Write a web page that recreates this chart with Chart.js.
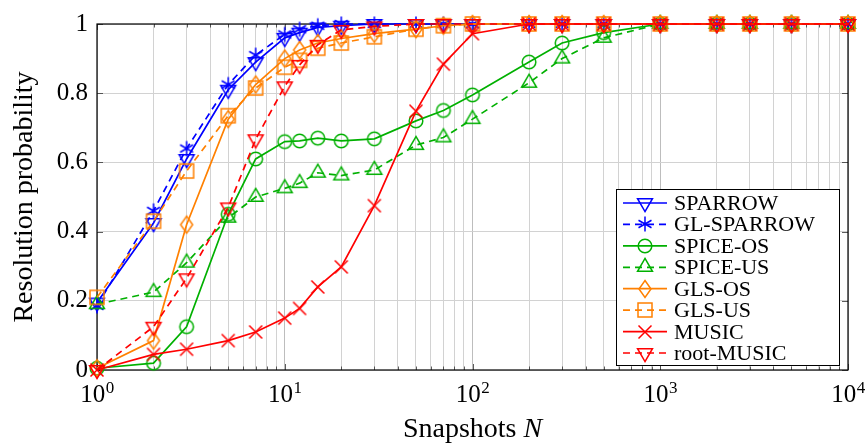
<!DOCTYPE html>
<html>
<head>
<meta charset="utf-8">
<script src="https://cdn.jsdelivr.net/npm/chart.js@4.4.0/dist/chart.umd.min.js"></script>
<style>
  body { margin: 0; background: #fff; }
  canvas { display: block; }
</style>
</head>
<body>
<canvas id="resChart" width="868" height="446"></canvas>
<script>
// snapshot counts on the log axis
const snapshots = [1, 2, 3, 5, 7, 10, 12, 15, 20, 30, 50, 70, 100, 200, 300, 500, 1000, 2000, 3000, 5000, 10000];

// resolution probability per method
const sparrow    = [0.195, 0.425, 0.61, 0.81, 0.89, 0.96, 0.975, 0.99, 0.995, 1, 1, 1, 1, 1, 1, 1, 1, 1, 1, 1, 1];
const glSparrow  = [0.185, 0.46, 0.64, 0.825, 0.91, 0.97, 0.985, 0.995, 1, 1, 1, 1, 1, 1, 1, 1, 1, 1, 1, 1, 1];
const spiceOS    = [0.005, 0.02, 0.125, 0.45, 0.61, 0.66, 0.662, 0.67, 0.662, 0.668, 0.72, 0.75, 0.795, 0.89, 0.945, 0.975, 1, 1, 1, 1, 1];
const spiceUS    = [0.19, 0.225, 0.31, 0.44, 0.50, 0.525, 0.54, 0.57, 0.562, 0.578, 0.65, 0.672, 0.725, 0.83, 0.90, 0.96, 1, 1, 1, 1, 1];
const glsOS      = [0.005, 0.085, 0.42, 0.725, 0.825, 0.90, 0.925, 0.945, 0.958, 0.972, 0.985, 0.995, 1, 1, 1, 1, 1, 1, 1, 1, 1];
const glsUS      = [0.21, 0.43, 0.575, 0.735, 0.815, 0.875, 0.895, 0.93, 0.945, 0.963, 0.985, 0.995, 1, 1, 1, 1, 1, 1, 1, 1, 1];
const music      = [0, 0.045, 0.06, 0.085, 0.11, 0.15, 0.178, 0.24, 0.298, 0.475, 0.748, 0.884, 0.972, 1, 1, 1, 1, 1, 1, 1, 1];
const rootMusic  = [0, 0.125, 0.265, 0.47, 0.667, 0.82, 0.882, 0.94, 0.983, 0.993, 1, 1, 1, 1, 1, 1, 1, 1, 1, 1, 1];

const seriesLabels = ['SPARROW', 'GL-SPARROW', 'SPICE-OS', 'SPICE-US', 'GLS-OS', 'GLS-US', 'MUSIC', 'root-MUSIC'];
const seriesValues = [sparrow, glSparrow, spiceOS, spiceUS, glsOS, glsUS, music, rootMusic];

// axis ticks
const xDecades = [1, 10, 100, 1000, 10000];
const xExponents = ['0', '1', '2', '3', '4'];
const yTicks = [0, 0.2, 0.4, 0.6, 0.8, 1];

const BLUE = '#0000ff';
const GREEN = '#00b000';
const ORANGE = '#ff8000';
const RED = '#ff0000';
const FONT = '"Liberation Serif", "DejaVu Serif", serif';

const seriesStyle = [
  { color: BLUE,   mark: 'triDown',  dashed: false },
  { color: BLUE,   mark: 'asterisk', dashed: true },
  { color: GREEN,  mark: 'circle',   dashed: false },
  { color: GREEN,  mark: 'triUp',    dashed: true },
  { color: ORANGE, mark: 'diamond',  dashed: false },
  { color: ORANGE, mark: 'square',   dashed: true },
  { color: RED,    mark: 'cross',    dashed: false },
  { color: RED,    mark: 'triDown',  dashed: true }
];
const DASH = [7, 5];

// minor + major grid positions: 1..9 in each decade
const xGridValues = [];
xDecades.slice(0, -1).forEach(d => {
  for (let k = 1; k < 10; k++) xGridValues.push(d * k);
});
xGridValues.push(xDecades[xDecades.length - 1]);

function isDecade(v) {
  const e = Math.log10(v);
  return Math.abs(e - Math.round(e)) < 1e-9;
}

function makeMark(shape, color) {
  const c = document.createElement('canvas');
  c.width = 24;
  c.height = 24;
  const g = c.getContext('2d');
  g.strokeStyle = color;
  g.lineWidth = 1.5;
  g.translate(12, 12);
  g.beginPath();
  const r = 8.6;
  switch (shape) {
    case 'circle':
      g.arc(0, 0, 6.8, 0, Math.PI * 2);
      break;
    case 'square':
      g.rect(-7, -7, 14, 14);
      break;
    case 'triUp':
      g.moveTo(0, -r);
      g.lineTo(r * 0.866, r / 2);
      g.lineTo(-r * 0.866, r / 2);
      g.closePath();
      break;
    case 'triDown':
      g.moveTo(0, r);
      g.lineTo(r * 0.866, -r / 2);
      g.lineTo(-r * 0.866, -r / 2);
      g.closePath();
      break;
    case 'diamond':
      g.moveTo(0, -8.5);
      g.lineTo(6, 0);
      g.lineTo(0, 8.5);
      g.lineTo(-6, 0);
      g.closePath();
      break;
    case 'cross':
      g.moveTo(-6.5, -6.5); g.lineTo(6.5, 6.5);
      g.moveTo(6.5, -6.5); g.lineTo(-6.5, 6.5);
      break;
    case 'asterisk':
      for (let k = 0; k < 3; k++) {
        const a = Math.PI / 2 + k * Math.PI / 3;
        g.moveTo(Math.cos(a) * 7.5, Math.sin(a) * 7.5);
        g.lineTo(-Math.cos(a) * 7.5, -Math.sin(a) * 7.5);
      }
      break;
  }
  g.stroke();
  return c;
}

const marks = seriesStyle.map(s => makeMark(s.mark, s.color));

const datasets = seriesLabels.map((label, i) => ({
  label,
  data: snapshots.map((n, j) => ({ x: n, y: seriesValues[i][j] })),
  borderColor: seriesStyle[i].color,
  backgroundColor: seriesStyle[i].color,
  borderWidth: 1.7,
  borderDash: seriesStyle[i].dashed ? DASH : [],
  pointStyle: marks[i],
  pointRadius: 7,
  tension: 0,
  fill: false,
  clip: false,
  order: seriesLabels.length - 1 - i
}));

// frame and inward tick marks, below the curves
const framePlugin = {
  id: 'framePlugin',
  beforeDatasetsDraw(chart) {
    const { ctx, chartArea: a, scales: { x, y } } = chart;
    ctx.save();
    ctx.strokeStyle = '#333';
    ctx.lineWidth = 0.8;
    ctx.beginPath();
    xGridValues.forEach(v => {
      const px = Math.round(x.getPixelForValue(v)) + 0.5;
      const len = isDecade(v) ? 6 : 3.5;
      ctx.moveTo(px, a.bottom); ctx.lineTo(px, a.bottom - len);
      ctx.moveTo(px, a.top); ctx.lineTo(px, a.top + len);
    });
    yTicks.forEach(v => {
      const py = Math.round(y.getPixelForValue(v)) + 0.5;
      ctx.moveTo(a.left, py); ctx.lineTo(a.left + 6, py);
      ctx.moveTo(a.right, py); ctx.lineTo(a.right - 6, py);
    });
    ctx.stroke();
    ctx.strokeStyle = '#000';
    ctx.lineWidth = 1.2;
    ctx.strokeRect(a.left, a.top, a.right - a.left, a.bottom - a.top);
    ctx.restore();
  }
};

// decade labels, axis titles and the legend box
const textPlugin = {
  id: 'textPlugin',
  afterDraw(chart) {
    const { ctx, chartArea: a, scales: { x } } = chart;
    ctx.save();
    ctx.fillStyle = '#000';
    ctx.textBaseline = 'alphabetic';
    ctx.textAlign = 'left';

    xDecades.forEach((d, i) => {
      const px = x.getPixelForValue(d);
      ctx.font = '25px ' + FONT;
      const wBase = ctx.measureText('10').width;
      ctx.font = '17px ' + FONT;
      const wExp = ctx.measureText(xExponents[i]).width;
      const left = px - (wBase + wExp) / 2;
      ctx.font = '25px ' + FONT;
      ctx.fillText('10', left, 402);
      ctx.font = '17px ' + FONT;
      ctx.fillText(xExponents[i], left + wBase + 0.5, 392.5);
    });

    // x title with italic N
    ctx.font = '28px ' + FONT;
    const t1 = 'Snapshots ';
    const w1 = ctx.measureText(t1).width;
    ctx.font = 'italic 28px ' + FONT;
    const w2 = ctx.measureText('N').width;
    const cx = (a.left + a.right) / 2;
    const tx = cx - (w1 + w2) / 2;
    ctx.font = '28px ' + FONT;
    ctx.fillText(t1, tx, 437);
    ctx.font = 'italic 28px ' + FONT;
    ctx.fillText('N', tx + w1, 437);

    // y title
    ctx.save();
    ctx.translate(31.5, (a.top + a.bottom) / 2);
    ctx.rotate(-Math.PI / 2);
    ctx.textAlign = 'center';
    ctx.font = '28px ' + FONT;
    ctx.fillText('Resolution probability', 0, 0);
    ctx.restore();

    // legend
    const lx = 616, ly = 189, lw = 223, lh = 176;
    ctx.fillStyle = '#fff';
    ctx.fillRect(lx, ly, lw, lh);
    ctx.strokeStyle = '#000';
    ctx.lineWidth = 1;
    ctx.strokeRect(lx + 0.5, ly + 0.5, lw, lh);
    ctx.font = '22px ' + FONT;
    seriesLabels.forEach((label, i) => {
      const rowY = 203 + i * 21.43;
      const st = seriesStyle[i];
      ctx.strokeStyle = st.color;
      ctx.lineWidth = 1.7;
      ctx.setLineDash(st.dashed ? DASH : []);
      ctx.beginPath();
      ctx.moveTo(623, rowY);
      ctx.lineTo(667, rowY);
      ctx.stroke();
      ctx.setLineDash([]);
      ctx.drawImage(marks[i], 645 - 12, Math.round(rowY) - 12);
      ctx.fillStyle = '#000';
      ctx.fillText(label, 674, rowY + 7);
    });
    ctx.restore();
  }
};

Chart.defaults.font.family = FONT;

new Chart(document.getElementById('resChart').getContext('2d'), {
  type: 'line',
  data: { datasets },
  options: {
    responsive: false,
    animation: false,
    devicePixelRatio: 1,
    layout: { padding: { left: 0, right: 20, top: 19, bottom: 0 } },
    plugins: {
      legend: { display: false },
      tooltip: { enabled: false }
    },
    scales: {
      x: {
        type: 'logarithmic',
        min: 1,
        max: 10000,
        afterBuildTicks: scale => {
          scale.ticks = xGridValues.map(v => ({ value: v, major: isDecade(v) }));
        },
        afterFit: scale => { scale.height = 76; },
        ticks: { autoSkip: false, maxRotation: 0, callback: () => '' },
        grid: {
          drawTicks: false,
          color: ctx => (ctx.tick && isDecade(ctx.tick.value)) ? '#bdbdbd' : '#d2d2d2',
          lineWidth: 1
        },
        border: { display: false }
      },
      y: {
        min: 0,
        max: 1,
        afterBuildTicks: scale => {
          scale.ticks = yTicks.map(v => ({ value: v }));
        },
        afterFit: scale => { scale.width = 97; },
        ticks: {
          color: '#000',
          padding: 9,
          font: { size: 25 },
          callback: v => String(Math.round(v * 10) / 10)
        },
        grid: { drawTicks: false, color: '#d2d2d2', lineWidth: 1 },
        border: { display: false }
      }
    }
  },
  plugins: [framePlugin, textPlugin]
});
</script>
</body>
</html>
